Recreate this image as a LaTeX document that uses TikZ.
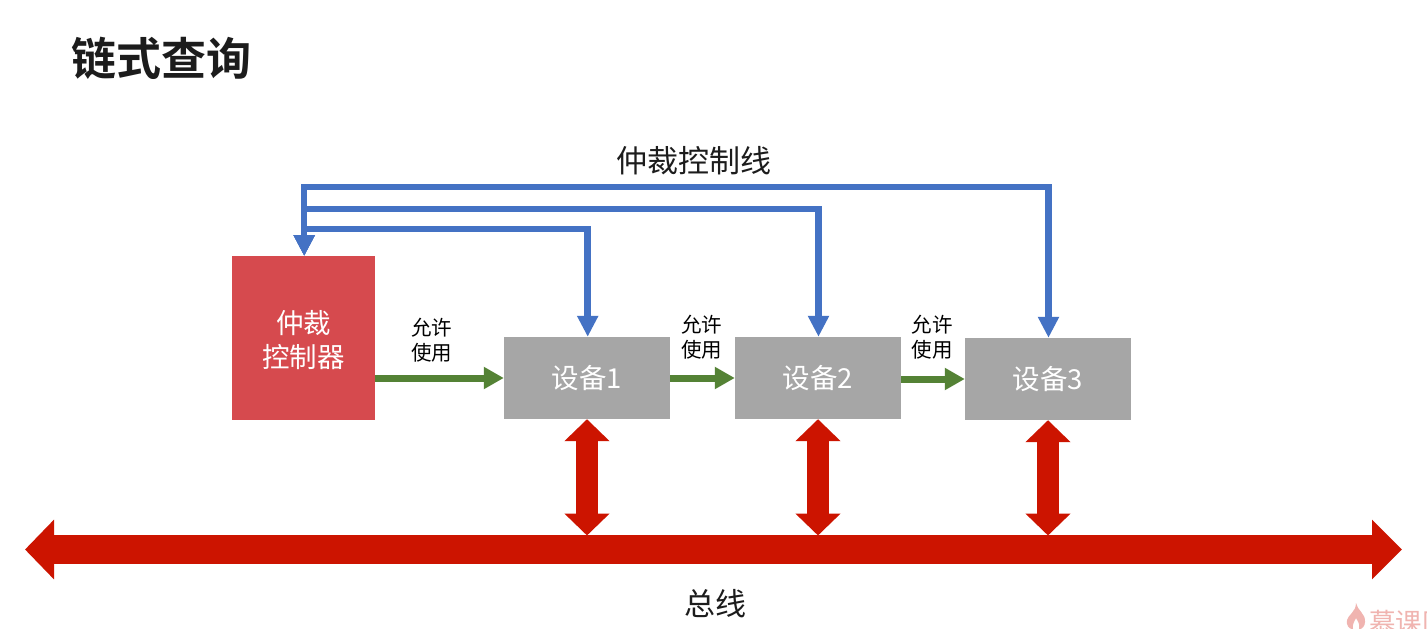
\documentclass[tikz,border=0pt]{standalone}
\usepackage{fontspec}
\setmainfont{Noto Sans CJK SC}
\newfontfamily\cjkbold{Noto Sans CJK SC Bold}
\usetikzlibrary{arrows.meta}
\definecolor{arbred}{HTML}{D64A4E}
\definecolor{devgray}{HTML}{A6A6A6}
\definecolor{ctlblue}{HTML}{4472C4}
\definecolor{okgreen}{HTML}{548235}
\definecolor{busred}{HTML}{CC1400}
\definecolor{wmark}{HTML}{F0B4B0}
\definecolor{inkdark}{HTML}{1C1C1C}
\newcommand{\fsz}[1]{\fontsize{#1}{#1}\selectfont}
\tikzset{
  arbbox/.style={fill=arbred,draw=none,inner sep=0pt,minimum width=143pt,minimum height=164pt,text=white,align=center,font=\fsz{27.5}},
  devbox/.style={fill=devgray,draw=none,inner sep=0pt,minimum width=166pt,minimum height=82pt,text=white,font=\fsz{27.5}},
  ctlline/.style={draw=ctlblue,line width=6.5pt,line join=miter,{Triangle[width=20pt,length=21pt]}-{Triangle[width=20pt,length=21pt]}},
  okline/.style={draw=okgreen,line width=7pt,-{Triangle[width=21pt,length=20pt]}},
  linkline/.style={draw=busred,line width=22pt,{Triangle[width=44pt,length=22pt]}-{Triangle[width=44pt,length=22pt]}},
  busline/.style={draw=busred,line width=29pt,{Triangle[width=58pt,length=29pt]}-{Triangle[width=58pt,length=30pt]}},
  oklabel/.style={inner sep=0pt,align=center,font=\fontsize{20.5}{25}\selectfont},
  biglabel/.style={inner sep=0pt,text=inkdark,font=\fsz{31}},
}
\begin{document}
\begin{tikzpicture}[x=1pt,y=-1pt]
\useasboundingbox (0,0) rectangle (1427,629);
\fill[white] (0,0) rectangle (1427,629);

\node[anchor=west,inner sep=0pt,text=inkdark,font=\cjkbold\fsz{45}] (title) at (71,58) {链式查询};
\node[biglabel] (ctllabel) at (694,161) {仲裁控制线};
\node[biglabel] (buslabel) at (715.5,604) {总线};

\node[arbbox] (arb) at (303.5,338) {};
\node[inner sep=0pt,text=white,align=center,font=\fsz{27.5}] (arbtext) at (303.5,340) {仲裁\\[7pt]控制器};
\node[devbox] (d1) at (587,378) {设备1};
\node[devbox] (d2) at (818,378) {设备2};
\node[devbox] (d3) at (1048,379) {设备3};

\coordinate (t1) at (0,229);
\coordinate (t2) at (0,209);
\coordinate (t3) at (0,187);
\coordinate (bl) at (25,549.5);
\coordinate (br) at (1402,549.5);
\coordinate (busy) at (0,535.5);
\coordinate (a0) at (304.2,256);

\draw[ctlline] (a0) -- (a0 |- t3) -| ([xshift=0.5pt]d3.north);
\draw[ctlline] (a0) -- (a0 |- t2) -| ([xshift=0.5pt]d2.north);
\draw[ctlline] (a0) -- (a0 |- t1) -| ([xshift=0.7pt]d1.north);

\draw[okline] (arb.east |- d1.west) -- (d1.west);
\draw[okline] (d1.east) -- (d2.west);
\draw[okline] (d2.east |- d3.west) -- (d3.west);

\node[oklabel] (ok1) at (431.5,340) {允许\\使用};
\node[oklabel] (ok2) at (701.5,337) {允许\\使用};
\node[oklabel] (ok3) at (932,337) {允许\\使用};

\draw[busline] (bl) -- (br);
\draw[linkline] (d1.south) -- (d1.south |- busy);
\draw[linkline] (d2.south) -- (d2.south |- busy);
\draw[linkline] (d3.south) -- (d3.south |- busy);

\begin{scope}
\clip (0,0) rectangle (1427,629);
\fill[wmark,even odd rule] (1356,603) .. controls (1357,610) and (1366,614) .. (1365,622)
  .. controls (1365,626) and (1362,629) .. (1360,629) -- (1352,629)
  .. controls (1349,629) and (1346,625) .. (1347,620)
  .. controls (1348,615) and (1356,612) .. (1356,603) -- cycle
  (1356,618) .. controls (1358,621) and (1360,624) .. (1359,629) -- (1353,629)
  .. controls (1352,625) and (1354,622) .. (1356,618) -- cycle;
\node[anchor=west,inner sep=0pt,text=wmark,font=\fsz{26.5}] (wm) at (1369,622) {慕课网};
\end{scope}
\end{tikzpicture}
\end{document}
